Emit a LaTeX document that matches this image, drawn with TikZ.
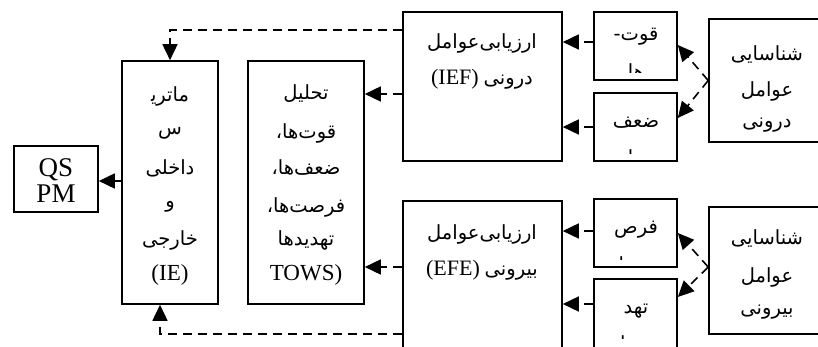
\documentclass[tikz,border=0pt]{standalone}
\usepackage{fontspec}
\setmainfont{Liberation Serif}
\newfontfamily\arabicfont[Script=Arabic]{DejaVu Sans}
\TeXXeTstate=1
\usetikzlibrary{arrows.meta}

\newcommand{\fa}[1]{{\arabicfont\beginR #1\endR}}
\newcommand{\faen}[2]{\beginR{\arabicfont #1} \beginL{\fontsize{22}{24}\selectfont #2}\endL\endR}

\tikzset{
	box/.style={draw, line width=1.6pt, inner sep=0pt},
	far/.style={inner sep=0pt, font=\fontsize{19.5}{22}\selectfont},
	lat/.style={inner sep=0pt, font=\fontsize{23}{26}\selectfont},
	dline/.style={line width=1.6pt, dash pattern=on 9pt off 6pt,
		-{Triangle[length=16pt,width=15pt]}},
	sline/.style={line width=1.6pt, -{Triangle[length=16pt,width=15pt]}}
}

\begin{document}
\begin{tikzpicture}[x=1pt,y=-1pt]
		\useasboundingbox (0,0) rectangle (818,347);
		\clip (0,0) rectangle (818,347);
		
		% boxes
		\node[box, minimum width=84pt, minimum height=66pt] (qspm) at (56,179) {};
		\node[box, minimum width=96pt, minimum height=243pt] (ie) at (170,182.5) {};
		\node[box, minimum width=116pt, minimum height=243pt] (tows) at (306,182.5) {};
		\node[box, minimum width=159pt, minimum height=149pt] (ief) at (482.5,86.5) {};
		\node[box, minimum width=159pt, minimum height=179pt] (efe) at (482.5,290.5) {};
		\node[box, minimum width=83pt, minimum height=68pt] (s) at (635.5,46) {};
		\node[box, minimum width=83pt, minimum height=68pt] (w) at (635.5,127) {};
		\node[box, minimum width=83pt, minimum height=68pt] (o) at (635.5,233) {};
		\node[box, minimum width=83pt, minimum height=101pt] (t) at (635.5,329.5) {};
		\node[box, minimum width=131pt, minimum height=123pt] (intl) at (774.5,80.5) {};
		\node[box, minimum width=131pt, minimum height=127pt] (extl) at (774.5,270.5) {};
		
		% texts
		\node[lat, font=\fontsize{27}{28}\selectfont, anchor=base] (qs) at (56,177) {QS};
		\node[lat, font=\fontsize{27}{28}\selectfont, anchor=base] (pm) at (56,203) {PM};
		
		\node[far] (ie1) at (170,96) {\fa{ماتری^^^^200d}};
		\node[far] (ie2) at (170,133) {\fa{س}};
		\node[far] (ie3) at (170,168) {\fa{داخلی}};
		\node[far] (ie4) at (170,207) {\fa{و}};
		\node[far] (ie5) at (170,240) {\fa{خارجی}};
		\node[lat, anchor=base] (ie6) at (170,280) {(IE)};
		
		\node[far] (tw1) at (306,94) {\fa{تحلیل}};
		\node[far] (tw2) at (306,133) {\fa{قوت^^^^200cها\kern0pt،}};
		\node[far] (tw3) at (306,168) {\fa{ضعف^^^^200cها\kern0pt،}};
		\node[far] (tw4) at (306,207) {\fa{فرصت^^^^200cها\kern0pt،}};
		\node[far] (tw5) at (306,240) {\fa{تهدیدها}};
		\node[lat, anchor=base] (tw6) at (306,280) {TOWS)};
		
		\node[far] (ief1) at (482,43) {\fa{ارزیابی^^^^200cعوامل}};
		\node[far] (ief2) at (482,79) {\faen{درونی}{(IEF)}};
		\node[far] (efe1) at (482,234) {\fa{ارزیابی^^^^200cعوامل}};
		\node[far] (efe2) at (482,270) {\faen{بیرونی}{(EFE)}};
		
		\begin{scope}
			\clip (s.north west) rectangle ([yshift=8pt]s.south east);
			\node[far] (s1) at (636,37) {\fa{قوت\kern0pt-}};
			\node[far] (s2) at (636,71) {\fa{ها}};
		\end{scope}
		\begin{scope}
			\clip (w.north west) rectangle ([yshift=8pt]w.south east);
			\node[far] (w1) at (636,123) {\fa{ضعف}};
			\node[far] (w2) at (636,157) {\fa{ها}};
		\end{scope}
		\begin{scope}
			\clip (o.north west) rectangle ([yshift=8pt]o.south east);
			\node[far] (o1) at (636,230) {\fa{فرص}};
			\node[far] (o2) at (636,264) {\fa{ت^^^^200cها}};
		\end{scope}
		\begin{scope}
			\clip (t.north west) rectangle (t.east |- 0,338);
			\node[far] (t1) at (636,311) {\fa{تهد}};
			\node[far] (t2) at (636,345) {\fa{یدها}};
		\end{scope}
		
		\begin{scope}
			\clip (intl.north west) rectangle ([yshift=9pt]intl.south east);
			\node[far] (in1) at (767,55) {\fa{شناسایی}};
			\node[far] (in2) at (767,91) {\fa{عوامل}};
			\node[far] (in3) at (767,125) {\fa{درونی}};
		\end{scope}
		\node[far] (ex1) at (767,239) {\fa{شناسایی}};
		\node[far] (ex2) at (767,277) {\fa{عوامل}};
		\node[far] (ex3) at (767,312) {\fa{بیرونی}};
		
		% connectors
		\coordinate (ietop) at (170,30);
		\coordinate (iebot) at (160,334);
		\draw[dline] (ief.west |- ietop) -- (ietop) -- (ie.north);
		\draw[dline] (efe.west |- iebot) -- (iebot) -- (iebot |- ie.south);
		\draw[dline] (ief.west |- 0,94) -- (tows.east |- 0,94);
		\draw[dline] (efe.west |- 0,267) -- (tows.east |- 0,267);
		\draw[sline] (ie.west |- 0,181) -- (qspm.east |- 0,181);
		
		\draw[dline] (s.west |- 0,42) -- (ief.east |- 0,42);
		\draw[dline] (w.west |- 0,127) -- (ief.east |- 0,127);
		\draw[dline] (o.west |- 0,231) -- (efe.east |- 0,231);
		\draw[dline] (t.west |- 0,304) -- (efe.east |- 0,304);
		
		\draw[dline] (intl.west) -- (s.east |- 0,45);
		\draw[dline] (intl.west) -- (w.east |- 0,118);
		\draw[dline] (extl.west |- 0,267) -- (o.east |- 0,233);
		\draw[dline] (extl.west |- 0,267) -- (t.east |- 0,297);
	\end{tikzpicture}
\end{document}
